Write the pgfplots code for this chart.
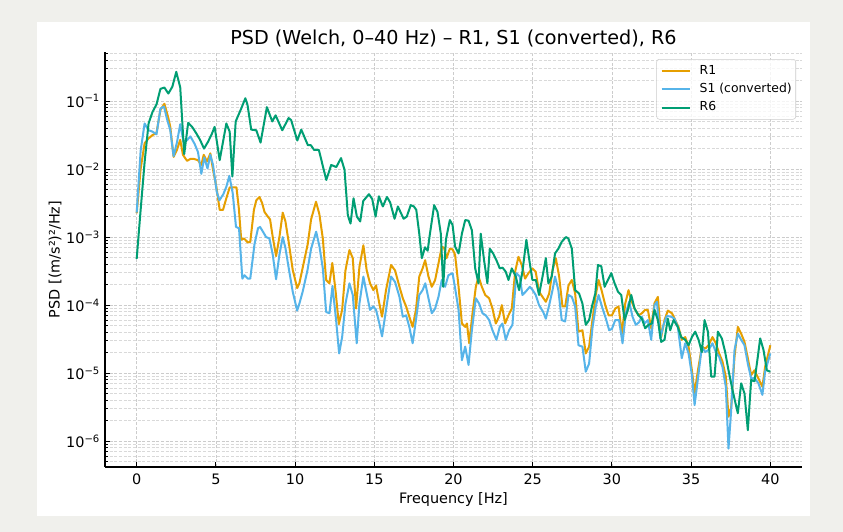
\documentclass[border=0pt]{standalone}
\usepackage{fontspec}
\setmainfont{DejaVu Sans}
\usepackage{pgfplots}
\usepackage{pgfplotstable}
\pgfplotsset{compat=1.18}
\definecolor{cR1}{HTML}{E69F00}
\definecolor{cS1}{HTML}{56B4E9}
\definecolor{cR6}{HTML}{009E73}
\definecolor{bgc}{RGB}{240,240,236}

\pgfplotstableread{
x y
0.00 2.24e-3
0.25 1.00e-2
0.50 2.40e-2
0.75 2.82e-2
1.00 3.16e-2
1.25 3.39e-2
1.50 7.41e-2
1.75 9.12e-2
2.00 5.62e-2
2.12 4.17e-2
2.33 1.51e-2
2.54 1.91e-2
2.75 2.69e-2
2.92 1.62e-2
3.18 1.32e-2
3.39 1.41e-2
3.62 1.41e-2
3.87 1.35e-2
4.08 1.15e-2
4.23 1.62e-2
4.44 1.29e-2
4.65 1.70e-2
4.82 9.77e-3
5.03 5.50e-3
5.24 2.51e-3
5.45 2.51e-3
5.66 3.72e-3
5.87 5.37e-3
6.08 5.37e-3
6.30 5.37e-3
6.45 2.63e-3
6.60 9.12e-4
6.77 9.55e-4
7.02 8.32e-4
7.17 8.51e-4
7.40 2.51e-3
7.55 3.47e-3
7.75 3.89e-3
7.92 3.16e-3
8.07 2.34e-3
8.28 2.00e-3
8.42 1.82e-3
8.59 1.00e-3
8.80 5.25e-4
9.01 1.00e-3
9.22 2.29e-3
9.39 1.70e-3
9.60 8.32e-4
9.85 3.31e-4
10.13 1.78e-4
10.27 2.09e-4
10.48 3.55e-4
10.80 7.94e-4
11.01 1.82e-3
11.32 3.31e-3
11.53 2.19e-3
11.75 9.55e-4
11.96 2.34e-4
12.17 2.09e-4
12.35 4.17e-4
12.56 1.58e-4
12.76 5.25e-5
12.97 8.51e-5
13.18 3.24e-4
13.43 6.46e-4
13.64 4.90e-4
13.85 8.91e-5
14.06 3.63e-4
14.31 7.59e-4
14.52 3.24e-4
14.73 2.09e-4
14.94 1.66e-4
15.11 1.95e-4
15.32 1.05e-4
15.49 6.76e-5
15.74 1.66e-4
16.06 3.89e-4
16.31 3.24e-4
16.59 1.86e-4
16.80 1.26e-4
17.01 9.55e-5
17.21 6.76e-5
17.42 4.79e-5
17.63 8.51e-5
17.84 2.63e-4
18.05 3.47e-4
18.21 4.57e-4
18.42 2.63e-4
18.63 1.86e-4
18.84 2.34e-4
19.05 4.07e-4
19.26 7.24e-4
19.41 6.92e-4
19.56 4.90e-4
19.77 6.76e-4
19.94 6.61e-4
20.10 5.50e-4
20.32 1.86e-4
20.53 5.37e-5
20.74 4.79e-5
20.85 5.37e-5
20.99 2.75e-5
21.20 7.59e-5
21.41 1.86e-4
21.58 2.63e-4
21.79 1.86e-4
22.00 1.41e-4
22.25 1.26e-4
22.46 8.91e-5
22.67 5.37e-5
22.88 6.76e-5
23.05 1.00e-4
23.26 5.37e-5
23.47 7.08e-5
23.68 8.91e-5
23.89 3.09e-4
24.10 5.13e-4
24.31 3.89e-4
24.52 2.45e-4
24.73 2.95e-4
24.98 3.47e-4
25.19 3.09e-4
25.40 1.58e-4
25.62 1.32e-4
25.83 1.12e-4
26.04 1.48e-4
26.25 3.24e-4
26.46 4.90e-4
26.67 2.63e-4
26.88 9.55e-5
27.05 9.55e-5
27.26 1.95e-4
27.47 2.34e-4
27.68 1.48e-4
27.89 4.07e-5
28.14 4.27e-5
28.35 1.95e-5
28.56 2.45e-5
28.77 6.03e-5
28.98 1.41e-4
29.16 2.34e-4
29.37 1.58e-4
29.58 1.00e-4
29.79 7.08e-5
30.00 7.08e-5
30.21 8.91e-5
30.42 9.55e-5
30.63 3.80e-5
30.84 1.05e-4
31.05 1.66e-4
31.22 1.17e-4
31.43 8.91e-5
31.68 7.08e-5
31.89 7.59e-5
32.10 8.51e-5
32.27 8.51e-5
32.48 4.57e-5
32.69 1.07e-4
32.90 1.32e-4
33.11 3.39e-5
33.32 6.03e-5
33.53 8.32e-5
33.79 7.59e-5
34.00 6.03e-5
34.20 4.79e-5
34.41 3.09e-5
34.63 3.39e-5
34.84 2.45e-5
35.05 1.10e-5
35.22 5.01e-6
35.43 1.10e-5
35.68 2.45e-5
35.89 2.29e-5
36.10 2.57e-5
36.35 3.39e-5
36.56 2.75e-5
36.77 1.95e-5
36.98 1.48e-5
37.19 8.91e-6
37.36 2.29e-6
37.53 3.16e-6
37.74 1.74e-5
37.95 4.79e-5
38.16 3.80e-5
38.37 2.88e-5
38.58 1.66e-5
38.79 9.33e-6
39.00 1.10e-5
39.25 8.32e-6
39.50 6.31e-6
39.67 1.23e-5
40.00 2.57e-5
}\Rone

\pgfplotstableread{
x y
0.00 2.29e-3
0.25 1.86e-2
0.50 4.68e-2
0.75 3.72e-2
1.00 3.55e-2
1.25 3.24e-2
1.50 7.76e-2
1.72 8.32e-2
1.91 5.50e-2
2.12 3.72e-2
2.33 1.55e-2
2.54 2.45e-2
2.75 4.57e-2
2.95 2.57e-2
3.16 2.63e-2
3.39 3.02e-2
3.66 2.34e-2
3.87 1.78e-2
4.08 8.51e-3
4.27 1.48e-2
4.47 1.02e-2
4.65 1.62e-2
4.82 1.15e-2
5.05 4.68e-3
5.22 3.47e-3
5.47 4.27e-3
5.66 5.50e-3
5.85 7.94e-3
6.06 4.47e-3
6.27 1.41e-3
6.46 1.35e-3
6.67 2.45e-4
6.81 2.75e-4
7.02 2.45e-4
7.17 2.45e-4
7.44 7.94e-4
7.66 1.35e-3
7.79 1.41e-3
8.00 1.17e-3
8.17 1.00e-3
8.38 9.55e-4
8.59 5.50e-4
8.80 2.40e-4
9.01 5.50e-4
9.22 1.00e-3
9.39 6.92e-4
9.60 3.47e-4
9.85 1.58e-4
10.13 8.32e-5
10.27 1.05e-4
10.48 1.58e-4
10.78 3.24e-4
11.01 6.76e-4
11.33 1.20e-3
11.54 7.24e-4
11.75 3.47e-4
11.96 7.94e-5
12.17 7.59e-5
12.36 1.91e-4
12.58 6.31e-5
12.78 1.95e-5
12.97 3.39e-5
13.18 1.05e-4
13.43 2.09e-4
13.64 1.41e-4
13.89 2.75e-5
14.06 1.05e-4
14.31 2.63e-4
14.52 1.48e-4
14.73 8.51e-5
14.94 9.55e-5
15.11 8.51e-5
15.32 5.37e-5
15.49 3.47e-5
15.74 8.51e-5
16.06 2.63e-4
16.31 2.19e-4
16.59 1.32e-4
16.80 6.76e-5
17.01 7.08e-5
17.21 4.79e-5
17.42 2.75e-5
17.63 6.03e-5
17.84 1.41e-4
18.05 1.66e-4
18.22 2.09e-4
18.42 1.26e-4
18.63 7.59e-5
18.84 8.91e-5
19.05 1.32e-4
19.26 2.34e-4
19.47 1.86e-4
19.68 2.75e-4
19.94 2.95e-4
20.10 1.78e-4
20.32 8.51e-5
20.53 1.55e-5
20.74 2.45e-5
20.95 1.32e-5
21.16 4.27e-5
21.41 1.26e-4
21.62 1.05e-4
21.83 7.59e-5
22.04 7.08e-5
22.25 6.03e-5
22.46 4.27e-5
22.71 3.09e-5
22.92 4.79e-5
23.09 5.37e-5
23.30 3.09e-5
23.51 4.27e-5
23.72 5.13e-5
23.97 2.95e-4
24.18 2.63e-4
24.35 1.41e-4
24.56 1.58e-4
24.82 1.86e-4
25.00 1.66e-4
25.19 1.41e-4
25.40 1.00e-4
25.66 7.94e-5
25.83 6.31e-5
26.04 1.00e-4
26.25 1.66e-4
26.41 2.63e-4
26.62 1.66e-4
26.83 6.03e-5
27.05 5.75e-5
27.26 1.41e-4
27.47 1.32e-4
27.68 9.55e-5
27.89 2.57e-5
28.14 2.45e-5
28.35 1.05e-5
28.56 1.38e-5
28.77 4.57e-5
28.98 9.55e-5
29.16 1.41e-4
29.37 9.55e-5
29.62 6.31e-5
29.83 4.27e-5
30.00 4.47e-5
30.21 6.03e-5
30.45 6.03e-5
30.67 2.75e-5
30.88 7.59e-5
31.09 1.12e-4
31.30 6.76e-5
31.51 5.13e-5
31.72 5.62e-5
31.89 6.76e-5
32.06 5.37e-5
32.27 6.03e-5
32.48 3.09e-5
32.69 1.00e-4
32.84 1.12e-4
33.05 3.24e-5
33.26 5.13e-5
33.47 6.92e-5
33.74 6.76e-5
33.95 6.31e-5
34.16 4.79e-5
34.41 1.66e-5
34.63 2.75e-5
34.84 1.95e-5
35.05 9.33e-6
35.22 3.39e-6
35.43 8.32e-6
35.68 2.45e-5
35.89 2.04e-5
36.10 2.19e-5
36.35 2.75e-5
36.56 2.04e-5
36.77 1.74e-5
36.98 1.23e-5
37.19 6.31e-6
37.36 7.76e-7
37.53 2.88e-6
37.74 2.19e-5
37.95 3.80e-5
38.16 3.09e-5
38.37 2.57e-5
38.58 1.38e-5
38.79 8.32e-6
39.00 8.51e-6
39.25 7.08e-6
39.50 4.79e-6
39.67 1.05e-5
40.00 1.95e-5
}\Sone

\pgfplotstableread{
x y
0.00 4.79e-4
0.25 2.51e-3
0.50 1.26e-2
0.75 4.68e-2
1.00 6.92e-2
1.25 8.91e-2
1.50 1.51e-1
1.75 1.58e-1
2.00 1.29e-1
2.25 1.62e-1
2.50 2.69e-1
2.75 1.58e-1
3.00 1.66e-2
3.25 4.79e-2
3.50 4.17e-2
3.75 3.39e-2
4.00 2.69e-2
4.25 2.00e-2
4.50 2.51e-2
4.75 3.31e-2
4.92 4.17e-2
5.24 1.35e-2
5.66 4.68e-2
5.87 3.55e-2
6.04 7.76e-3
6.25 5.01e-2
6.60 7.76e-2
6.86 1.10e-1
7.00 8.71e-2
7.23 3.80e-2
7.55 3.72e-2
7.82 2.45e-2
8.22 8.13e-2
8.56 5.01e-2
8.77 6.17e-2
9.19 3.72e-2
9.59 5.62e-2
9.75 5.25e-2
10.14 2.63e-2
10.39 3.80e-2
10.81 2.24e-2
11.00 2.24e-2
11.20 1.91e-2
11.50 1.91e-2
11.97 6.92e-3
12.28 1.15e-2
12.60 1.07e-2
12.90 1.45e-2
13.12 9.77e-3
13.33 2.09e-3
13.50 1.58e-3
13.69 3.72e-3
13.90 2.00e-3
14.11 1.70e-3
14.30 3.39e-3
14.66 4.27e-3
14.87 3.63e-3
15.08 2.00e-3
15.29 3.98e-3
15.54 2.82e-3
15.80 3.89e-3
16.00 3.24e-3
16.28 1.86e-3
16.49 2.82e-3
16.85 1.86e-3
17.05 2.00e-3
17.30 2.95e-3
17.50 2.82e-3
17.65 2.51e-3
17.84 1.12e-3
18.00 4.90e-4
18.20 7.08e-4
18.37 6.31e-4
18.50 1.07e-3
18.78 2.95e-3
18.99 2.34e-3
19.20 1.12e-3
19.35 1.86e-4
19.52 9.12e-4
19.77 1.78e-3
19.94 1.51e-3
20.10 7.24e-4
20.32 5.75e-4
20.53 1.12e-3
20.74 1.78e-3
20.95 1.74e-3
21.16 1.26e-3
21.37 3.47e-4
21.58 2.09e-4
21.72 1.12e-3
21.93 4.57e-4
22.14 2.09e-4
22.29 6.76e-4
22.50 5.75e-4
22.71 4.57e-4
22.92 3.47e-4
23.10 3.55e-4
23.30 3.09e-4
23.47 2.34e-4
23.68 3.47e-4
23.93 2.63e-4
24.14 1.66e-4
24.35 3.09e-4
24.60 9.12e-4
24.82 4.07e-4
24.98 2.34e-4
25.20 2.34e-4
25.40 1.41e-4
25.62 2.63e-4
25.83 4.90e-4
25.99 2.09e-4
26.20 2.63e-4
26.41 5.75e-4
26.62 6.76e-4
26.83 8.51e-4
27.09 1.00e-3
27.25 9.55e-4
27.47 6.76e-4
27.68 1.66e-4
27.93 1.48e-4
28.14 1.05e-4
28.35 5.13e-5
28.56 6.03e-5
28.74 9.55e-5
28.95 1.48e-4
29.12 3.89e-4
29.33 3.72e-4
29.54 1.86e-4
29.75 2.34e-4
29.96 2.95e-4
30.17 2.09e-4
30.38 1.58e-4
30.59 1.41e-4
30.80 6.03e-5
31.01 8.51e-5
31.22 1.41e-4
31.43 8.91e-5
31.68 7.08e-5
31.89 6.31e-5
32.10 4.57e-5
32.31 5.13e-5
32.52 5.37e-5
32.69 8.51e-5
32.90 6.03e-5
33.11 2.88e-5
33.32 3.09e-5
33.53 6.31e-5
33.68 4.27e-5
33.89 6.03e-5
34.16 4.79e-5
34.37 3.39e-5
34.63 3.09e-5
34.84 2.57e-5
35.05 3.39e-5
35.26 4.07e-5
35.47 3.09e-5
35.68 2.04e-5
35.85 6.03e-5
36.06 4.07e-5
36.27 8.91e-6
36.48 8.91e-6
36.69 4.07e-5
36.94 3.24e-5
37.15 2.04e-5
37.36 1.10e-5
37.57 6.31e-6
37.78 3.80e-6
37.95 2.57e-6
38.16 7.08e-6
38.37 5.01e-6
38.58 1.45e-6
38.79 7.94e-6
39.00 7.59e-6
39.21 1.74e-5
39.36 3.24e-5
39.57 2.19e-5
39.78 1.10e-5
40.00 1.05e-5
}\Rsix

\begin{document}
\begin{tikzpicture}
\fill[bgc] (0pt,0pt) rectangle (632.25pt,399pt);
\fill[white] (27.75pt,12pt) rectangle (607.5pt,382.5pt);
\begin{axis}[
  at={(78.75pt,48.75pt)}, anchor=south west,
  scale only axis, width=522.75pt, height=311.25pt,
  xmin=-2, xmax=42,
  ymode=log, ymin=4.17e-7, ymax=0.526,
  axis x line*=bottom, axis y line*=left,
  axis line style={-, line width=0.8pt, black},
  tick align=inside,
  major tick length=3.75pt, minor tick length=2.2pt,
  every tick/.style={line width=0.8pt, black},
  xtick={0,5,10,15,20,25,30,35,40},
  xticklabels={0,5,10,15,20,25,30,35,40},
  ytick={1e-6,1e-5,1e-4,1e-3,1e-2,1e-1},
  yticklabels={10\textsuperscript{−6},10\textsuperscript{−5},10\textsuperscript{−4},10\textsuperscript{−3},10\textsuperscript{−2},10\textsuperscript{−1}},
  minor ytick={5e-7,6e-7,7e-7,8e-7,9e-7,
    2e-6,3e-6,4e-6,5e-6,6e-6,7e-6,8e-6,9e-6,
    2e-5,3e-5,4e-5,5e-5,6e-5,7e-5,8e-5,9e-5,
    2e-4,3e-4,4e-4,5e-4,6e-4,7e-4,8e-4,9e-4,
    2e-3,3e-3,4e-3,5e-3,6e-3,7e-3,8e-3,9e-3,
    2e-2,3e-2,4e-2,5e-2,6e-2,7e-2,8e-2,9e-2,
    2e-1,3e-1,4e-1,5e-1},
  grid=both,
  major grid style={gray!40, line width=0.5pt, dash pattern=on 2.2pt off 1.3pt},
  minor grid style={gray!30, line width=0.4pt, dash pattern=on 2.2pt off 1.3pt},
  ticklabel style={font=\fontsize{10.8}{13}\selectfont},
  xticklabel style={inner sep=0pt, anchor=north, yshift=-4.7pt},
  yticklabel style={inner sep=0pt, anchor=east, xshift=-3.5pt},
  xlabel={Frequency [Hz]},
  ylabel={PSD [(m/s²)²/Hz]},
  label style={font=\fontsize{10.8}{13}\selectfont},
  xlabel style={at={(axis description cs:0.5,-0.0795)}, anchor=center},
  ylabel style={at={(axis description cs:-0.0717,0.5)}, anchor=center},
  every axis title shift=0pt,
  title={PSD (Welch, 0–40 Hz) – R1, S1 (converted), R6},
  title style={at={(axis description cs:0.5,1.0176)}, anchor=base, font=\fontsize{14.4}{17}\selectfont, inner sep=0pt},
  legend style={at={(1,1)}, anchor=north east, xshift=-4.5pt, yshift=-5.25pt,
    draw=black!20, fill=white, fill opacity=0.8, text opacity=1,
    rounded corners=2pt, font=\fontsize{9.3}{11}\selectfont,
    inner xsep=3pt, inner ysep=4.3pt, row sep=4.7pt,
    nodes={inner sep=0pt, text height=7pt, text depth=2pt},
    /tikz/every odd column/.append style={column sep=6.75pt}},
  legend cell align=left,
  legend image code/.code={\draw[#1, line width=1.5pt] (0pt,0pt) -- (21pt,0pt);},
]
\addplot[cR1, line width=1.5pt, line join=round, no markers] table[x=x,y=y] {\Rone};
\addlegendentry{R1}
\addplot[cS1, line width=1.5pt, line join=round, no markers] table[x=x,y=y] {\Sone};
\addlegendentry{S1 (converted)}
\addplot[cR6, line width=1.5pt, line join=round, no markers] table[x=x,y=y] {\Rsix};
\addlegendentry{R6}
\end{axis}
\end{tikzpicture}
\end{document}
